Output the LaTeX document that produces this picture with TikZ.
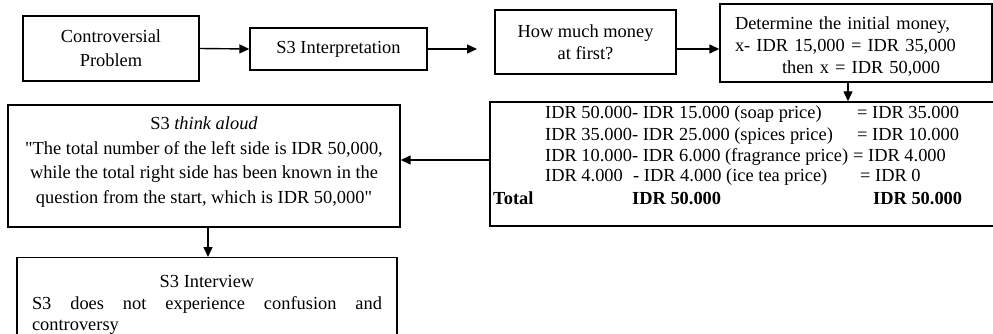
\documentclass[tikz,border=0pt]{standalone}
\usepackage{fontspec}
\setmainfont{Liberation Serif}
\newfontfamily\plainquote{Liberation Serif}
\newcommand{\sq}{{\plainquote\symbol{34}}}
\usetikzlibrary{arrows.meta}
\begin{document}
\begin{tikzpicture}[x=1pt,y=-1pt,
  box/.style={draw, line width=1.4pt, inner sep=0pt, align=center, font=\fontsize{18.4}{24}\selectfont},
  arr/.style={line width=1.4pt, -{Triangle[length=10pt,width=9pt]}},
  txt/.style={inner sep=0pt, anchor=base west, font=\fontsize{18.4}{21}\selectfont}]
\clip (0,0) rectangle (993,334);
\node[box, minimum width=176pt, minimum height=65pt] (cp) at (111,48.5) {Controversial\\Problem};
\node[box, minimum width=177pt, minimum height=42pt] (in) at (338.5,49) {S3 Interpretation};
\node[box, minimum width=181pt, minimum height=64pt, font=\fontsize{18.4}{22}\selectfont] (hm) at (585.5,42) {How much money\\at first?};
\node[box, minimum width=272pt, minimum height=78pt, text width=242pt, inner xsep=15pt, align=left, font=\fontsize{18.4}{22}\selectfont] (dt) at (856,43) {\rule{0pt}{19pt}Determine the initial money,\\x- IDR 15,000 = IDR 35,000\\\hspace*{47pt}then x = IDR 50,000};
\node[box, minimum width=510pt, minimum height=124pt] (calc) at (745,164) {};
\node[txt] (r1a) at (545,119) {IDR 50.000- IDR 15.000 (soap price)};
\node[txt] (r1b) at (857,119) {= IDR 35.000};
\node[txt] (r2a) at (545,140) {IDR 35.000- IDR 25.000 (spices price)};
\node[txt] (r2b) at (857,140) {= IDR 10.000};
\node[txt] (r3a) at (545,161) {IDR 10.000- IDR 6.000 (fragrance price)};
\node[txt] (r3b) at (853,161) {= IDR 4.000};
\node[txt] (r4a) at (545,182) {IDR 4.000};
\node[txt] (r4c) at (633,182) {- IDR 4.000 (ice tea price)};
\node[txt] (r4b) at (860,182) {= IDR 0};
\node[txt, font=\fontsize{18.4}{21}\selectfont\bfseries] (r5a) at (493,204) {Total};
\node[txt, font=\fontsize{18.4}{21}\selectfont\bfseries] (r5b) at (632,204) {IDR 50.000};
\node[txt, font=\fontsize{18.4}{21}\selectfont\bfseries] (r5c) at (873,204) {IDR 50.000};
\node[box, minimum width=392pt, minimum height=122pt, font=\fontsize{18.4}{24.5}\selectfont] (ta) at (204,166) {S3 \textit{think aloud}\\\sq The total number of the left side is IDR 50,000,\\while the total right side has been known in the\\question from the start, which is IDR 50,000\sq\rule[-12pt]{0pt}{1pt}};
\node[box, anchor=north, minimum width=380pt, minimum height=95pt, text width=350pt, inner xsep=15pt, inner ysep=2pt, align=justify, font=\fontsize{18.4}{21.5}\selectfont] (iv) at (207,257) {\makebox[\linewidth][c]{S3 Interview}\\S3 does not experience confusion and\linebreak controversy};
\coordinate (a2e) at (477,49);
\draw[arr] (cp.east) -- (in.west);
\draw[arr] (in.east) -- (a2e);
\draw[arr] ([yshift=-7pt]hm.east) -- ([yshift=-7pt]hm.east -| dt.west);
\draw[arr] ([xshift=-8pt]dt.south) -- ([xshift=-8pt]dt.south |- calc.north);
\draw[arr] ([yshift=4pt]calc.west) -- ([yshift=4pt]calc.west -| ta.east);
\draw[arr] ([xshift=4pt]ta.south) -- ([xshift=4pt]ta.south |- iv.north);
\end{tikzpicture}
\end{document}
